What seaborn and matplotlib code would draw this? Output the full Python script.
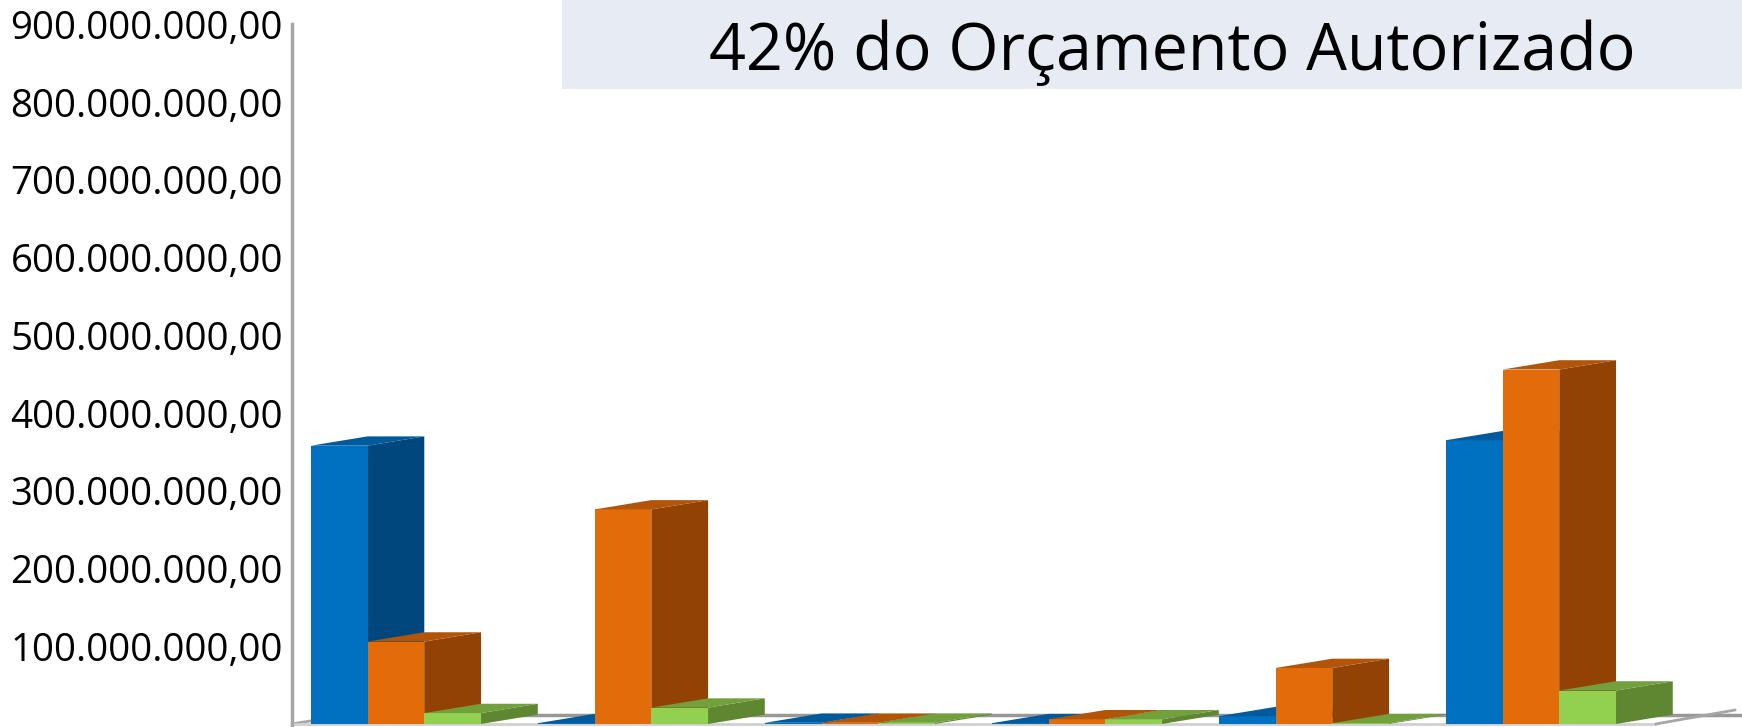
import numpy as np
import pandas as pd
import matplotlib
matplotlib.use("Agg")
import matplotlib.pyplot as plt
import seaborn as sns
from matplotlib.patches import Polygon, Rectangle
from matplotlib.ticker import FuncFormatter

# valores (R$)
grupos = ["G1", "G2", "G3", "G4", "G5", "G6"]
serie_azul = [358e6, 1e6, 1.5e6, 1e6, 10e6, 365e6]
serie_laranja = [106e6, 276e6, 1.5e6, 6e6, 72e6, 456e6]
serie_verde = [14e6, 21e6, 1.5e6, 6e6, 1e6, 43e6]
series = ["Série 1", "Série 2", "Série 3"]
titulo = "42% do Orçamento Autorizado"

cores_frente = ["#0070C0", "#E36C0A", "#92D050"]
cores_lado = ["#00477E", "#934205", "#5F8630"]
cores_topo = ["#005A9C", "#B35508", "#71A03C"]

df = pd.DataFrame({
    "grupo": grupos * 3,
    "valor": serie_azul + serie_laranja + serie_verde,
    "serie": [s for s in series for _ in grupos],
})

sns.set_style("white")
plt.rcParams["font.family"] = ["Open Sans", "DejaVu Sans"]

fig = plt.figure(figsize=(17.42, 7.27), dpi=100)
ax = fig.add_axes([0.1676, 0.0, 1 - 0.1676, 0.9664])

sns.barplot(data=df, x="grupo", y="valor", hue="serie", palette=cores_frente,
            width=0.75, saturation=1, legend=False, ax=ax)

ax.set_xlim(-0.458, 5.93)
ax.set_ylim(-3.9e6, 900e6)

# efeito 3D: faces lateral e superior a partir das barras do seaborn
dx, dy = 0.25, 12e6
barras = sorted(ax.patches, key=lambda p: p.get_x())
for i, p in enumerate(barras):
    k = i % 3
    x, w, h = p.get_x(), p.get_width(), p.get_height()
    z = 3 + i * 0.01
    p.set_zorder(z + 0.005)
    p.set_edgecolor("none")
    lado = Polygon([(x + w, 0), (x + w + dx, dy), (x + w + dx, h + dy), (x + w, h)],
                   closed=True, facecolor=cores_lado[k], edgecolor="none", zorder=z)
    topo = Polygon([(x, h), (x + dx, h + dy), (x + w + dx, h + dy), (x + w, h)],
                   closed=True, facecolor=cores_topo[k], edgecolor="none", zorder=z + 0.006)
    ax.add_patch(lado)
    ax.add_patch(topo)

# piso
x0 = -0.458
x1 = 5.55
cinza = "#A6A6A6"
ax.plot([x0, x0 + dx], [0, dy], color=cinza, lw=2, zorder=2, clip_on=False)
ax.plot([x0 + dx, 5.93], [dy, dy], color="#989898", lw=2.5, zorder=2)
ax.plot([x0, x1], [0, 0], color="#D0D0D0", lw=2, zorder=2)
ax.plot([x1, x1 + 0.35], [0, 18e6], color=cinza, lw=2, zorder=2, clip_on=False)

for s in ["top", "right", "bottom"]:
    ax.spines[s].set_visible(False)
ax.spines["left"].set_color(cinza)
ax.spines["left"].set_linewidth(2.5)

ax.set_yticks(np.arange(100e6, 901e6, 100e6))
ax.yaxis.set_major_formatter(FuncFormatter(
    lambda v, pos: f"{v:,.2f}".replace(",", "X").replace(".", ",").replace("X", ".")))
ax.tick_params(axis="y", length=0, pad=6.5, labelsize=27.7, labelcolor="black")
ax.set_xticks([])
ax.set_xlabel("")
ax.set_ylabel("")

# caixa do titulo
fig.patches.append(Rectangle((0.3226, 0.8776), 0.6774, 0.1224, transform=fig.transFigure,
                             facecolor="#E7ECF4", edgecolor="none", zorder=0))
fig.text(0.673, 0.927, titulo, ha="center", va="center", fontsize=46.5, color="black")

fig.savefig("out.png", dpi=100)
